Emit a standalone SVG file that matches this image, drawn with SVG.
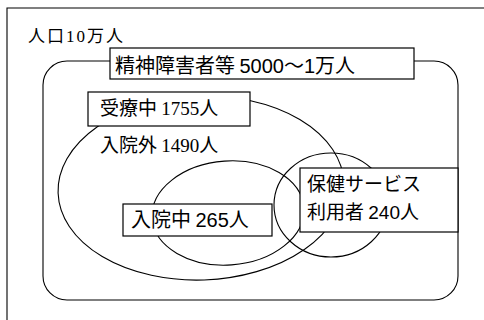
<svg xmlns="http://www.w3.org/2000/svg" width="484" height="320" viewBox="0 0 484 320">
<style>
.ln{fill:none;stroke:#000;stroke-width:1.1}
.box{fill:#fff;stroke:#000;stroke-width:1.2}
.t{font-family:"Noto Sans CJK JP","Noto Sans",sans-serif;fill:#000}
.s{font-family:"Liberation Serif",serif}
.a{font-family:"Liberation Sans",sans-serif}
</style>
<rect width="484" height="320" fill="#fff"/>
<g id="population">
<path class="ln" d="M7,320 V8 H484" stroke-width="1.4"/>
<text class="t" x="28" y="42" font-size="17" letter-spacing="2">人口<tspan class="s">10</tspan>万人</text>
</g>
<g id="mental">
<rect class="ln" x="43" y="61" width="415" height="239" rx="24" stroke-width="1.5"/>
</g>
<g id="treated-ellipse">
<ellipse class="ln" cx="201" cy="188" rx="143" ry="92" transform="rotate(-2 201 188)"/>
</g>
<g id="inpatient-ellipse">
<ellipse class="ln" cx="228" cy="213" rx="76" ry="52" transform="rotate(-4 228 213)"/>
</g>
<g id="service-ellipse">
<ellipse class="ln" cx="331" cy="205" rx="57" ry="52"/>
</g>
<g id="connectors"></g>
<g id="mental-label">
<rect class="box" x="110" y="48" width="304" height="31"/>
<text class="t" x="115" y="73" font-size="20">精神障害者等 <tspan class="a">5000</tspan>～<tspan class="a">1</tspan>万人</text>
</g>
<g id="treated-label">
<rect class="box" x="88" y="92" width="162" height="34"/>
<text class="t" x="100" y="115" font-size="19">受療中 <tspan class="s">1755</tspan>人</text>
</g>
<g id="outpatient">
<text class="t" x="100" y="152" font-size="19">入院外 <tspan class="s">1490</tspan>人</text>
</g>
<g id="inpatient-label">
<rect class="box" x="123" y="204" width="149" height="32"/>
<text class="t" x="131" y="227" font-size="20">入院中 <tspan class="a">265</tspan>人</text>
</g>
<g id="service-label">
<rect class="box" x="300" y="168" width="158" height="64"/>
<text class="t" x="307" y="191" font-size="19">保健サービス</text>
<text class="t" x="307" y="219" font-size="19">利用者 <tspan class="a">240</tspan>人</text>
</g>
</svg>
